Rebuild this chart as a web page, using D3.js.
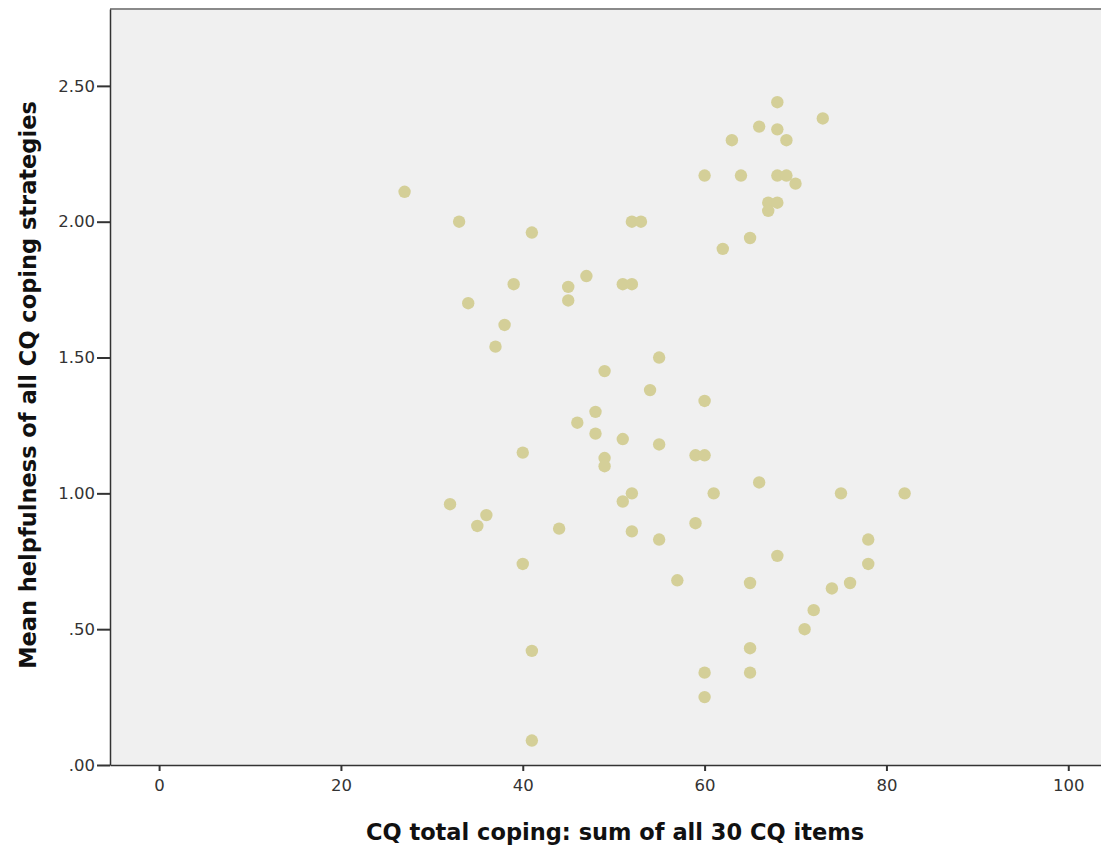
<!DOCTYPE html>
<html><head><meta charset="utf-8">
<script src="https://cdn.jsdelivr.net/npm/d3@7"></script>
<style>body{margin:0;background:#fff;}svg{display:block;}</style>
</head><body>
<svg id="chart" width="1101" height="848"></svg>
<script>
const xValues = [68,73,66,68,63,69,60,64,68,69,70,67,68,67,65,62,27,33,41,52,53,39,45,47,51,52,45,34,
  38,37,55,49,54,60,48,46,48,51,55,40,59,60,49,49,66,52,61,75,51,32,36,35,44,59,52,55,68,82,
  40,57,65,78,76,74,72,71,41,65,60,65,60,41,78];
const yValues = [2.44,2.38,2.35,2.34,2.30,2.30,2.17,2.17,2.17,2.17,2.14,2.07,2.07,2.04,1.94,1.90,2.11,2.00,1.96,2.00,2.00,1.77,1.76,1.80,1.77,1.77,1.71,1.70,
  1.62,1.54,1.50,1.45,1.38,1.34,1.30,1.26,1.22,1.20,1.18,1.15,1.14,1.14,1.13,1.10,1.04,1.00,1.00,1.00,0.97,0.96,0.92,0.88,0.87,0.89,0.86,0.83,0.77,1.00,
  0.74,0.68,0.67,0.74,0.67,0.65,0.57,0.50,0.42,0.43,0.34,0.34,0.25,0.09,0.83];
const xTicks = [0,20,40,60,80,100];
const yTicks = [0,0.5,1.0,1.5,2.0,2.5];
const yTickLabels = [".00",".50","1.00","1.50","2.00","2.50"];

const svg = d3.select("#chart");
const L = 110, R = 1101, T = 9, B = 765;
const x = d3.scaleLinear().domain([-5.4, 103.6]).range([L, R]);
const y = d3.scaleLinear().domain([0, 2.783]).range([B, T]);

svg.append("rect").attr("x", L).attr("y", T).attr("width", R - L).attr("height", B - T).attr("fill", "#f0f0f0");
svg.append("line").attr("x1", L).attr("x2", R).attr("y1", T).attr("y2", T).attr("stroke", "#8a8a8a").attr("stroke-width", 2);

const data = xValues.map((v, i) => ({x: v, y: yValues[i]}));
svg.append("g").selectAll("circle").data(data).join("circle")
  .attr("cx", d => x(d.x)).attr("cy", d => y(d.y)).attr("r", 6.2)
  .attr("fill", "#d4cf98");

const tickFont = "'DejaVu Sans', sans-serif";
const xAxis = svg.append("g").attr("transform", `translate(0,${B})`)
  .call(d3.axisBottom(x).tickValues(xTicks).tickSize(6).tickPadding(8).tickSizeOuter(0));
xAxis.select(".domain").attr("stroke", "#333").attr("stroke-width", 1.5);
xAxis.selectAll(".tick line").attr("stroke", "#333").attr("stroke-width", 2);
xAxis.selectAll(".tick text").attr("font-family", tickFont).attr("font-size", 16.5).attr("fill", "#333");

const yAxis = svg.append("g").attr("transform", `translate(${L},0)`)
  .call(d3.axisLeft(y).tickValues(yTicks).tickFormat((d, i) => yTickLabels[i]).tickSize(13).tickPadding(2).tickSizeOuter(0));
yAxis.select(".domain").attr("stroke", "#333").attr("stroke-width", 1.5);
yAxis.selectAll(".tick line").attr("stroke", "#333").attr("stroke-width", 2);
yAxis.selectAll(".tick text").attr("font-family", tickFont).attr("font-size", 16.5).attr("fill", "#333");

svg.append("text").attr("x", 615).attr("y", 840).attr("text-anchor", "middle")
  .attr("font-family", "'DejaVu Sans', sans-serif").attr("font-weight", "bold").attr("font-size", 22.5)
  .attr("fill", "#111").text("CQ total coping: sum of all 30 CQ items");
svg.append("text").attr("transform", "translate(36,385) rotate(-90)").attr("text-anchor", "middle")
  .attr("font-family", "'DejaVu Sans', sans-serif").attr("font-weight", "bold").attr("font-size", 22.5)
  .attr("fill", "#111").text("Mean helpfulness of all CQ coping strategies");
</script>
</body></html>
